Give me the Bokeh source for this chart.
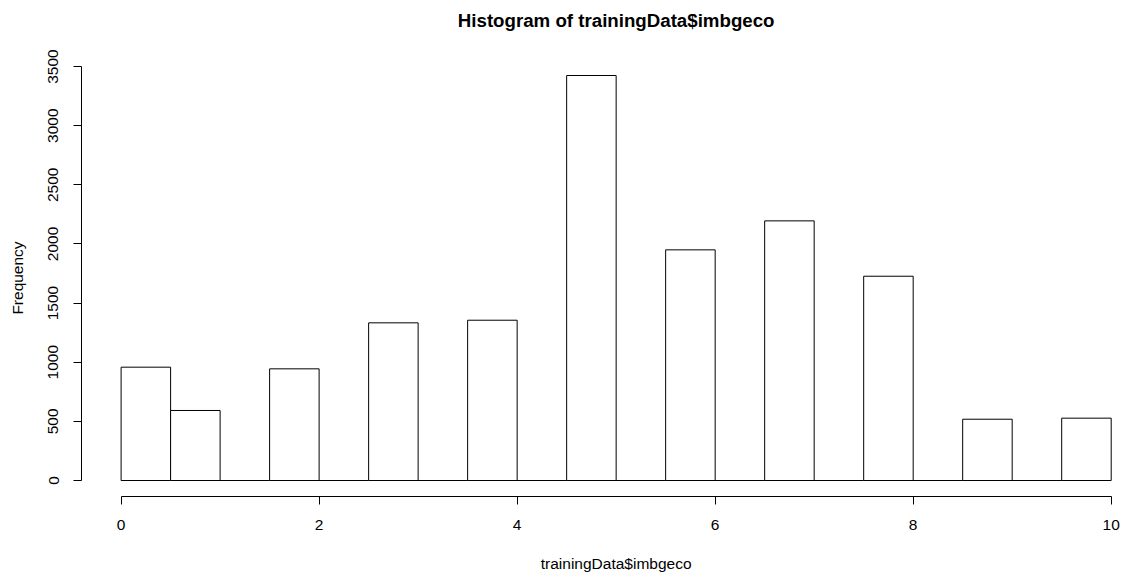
import math
from bokeh.plotting import figure
from bokeh.models import Range1d, FixedTicker, ColumnDataSource
from bokeh.core.properties import value
from bokeh.embed import file_html
from bokeh.resources import INLINE

# Histogram bins (width 0.5) and their counts
bin_left = [0.0, 0.5, 1.0, 1.5, 2.0, 2.5, 3.0, 3.5, 4.0, 4.5,
            5.0, 5.5, 6.0, 6.5, 7.0, 7.5, 8.0, 8.5, 9.0, 9.5]
counts = [958, 592, 0, 944, 0, 1333, 0, 1355, 0, 3424,
          0, 1950, 0, 2195, 0, 1727, 0, 518, 0, 527]
bin_width = 0.5

x_ticks = [0, 2, 4, 6, 8, 10]
y_ticks = [0, 500, 1000, 1500, 2000, 2500, 3000, 3500]

title_text = "Histogram of trainingData$imbgeco"
x_label = "trainingData$imbgeco"
y_label = "Frequency"

FONT = "Liberation Sans"
W, H = 1124, 572

# Plot region in data units, base-R style: x spans the breaks, y spans 0..max,
# each padded by 4 %; the axes sit on the edges of that region.
x_lo, x_hi = 0.0, 10.0
y_lo, y_hi = 0.0, float(max(counts))
x_pad = 0.04 * (x_hi - x_lo)
y_pad = 0.04 * (y_hi - y_lo)
reg_x0, reg_x1 = x_lo - x_pad, x_hi + x_pad
reg_y0, reg_y1 = y_lo - y_pad, y_hi + y_pad

# Pixel placement of that region on the page (its right edge runs off the page)
px_left, px_right = 81.0, 1150.3
px_top, px_bottom = 58.8, 496.2
sx = (px_right - px_left) / (reg_x1 - reg_x0)   # px per x unit
sy = (px_bottom - px_top) / (reg_y1 - reg_y0)   # px per y unit

# The frame covers the whole canvas; ranges are chosen so the region lands above
xr = Range1d(reg_x0 - px_left / sx, reg_x0 + (W - px_left) / sx)
yr = Range1d(reg_y0 - (H - px_bottom) / sy, reg_y1 + px_top / sy)

def y_at(px):
    # data y for a canvas row
    return reg_y1 + (px_top - px) / sy

def x_at(px):
    # data x for a canvas column
    return reg_x0 + (px - px_left) / sx

p = figure(
    width=W, height=H, x_range=xr, y_range=yr,
    output_backend="svg", toolbar_location=None,
    min_border_left=0, min_border_right=0, min_border_top=0, min_border_bottom=0,
)
p.background_fill_color = "white"
p.border_fill_color = "white"
p.outline_line_color = None
p.grid.visible = False

src = ColumnDataSource(dict(
    left=bin_left,
    right=[b + bin_width for b in bin_left],
    top=counts,
    bottom=[0] * len(counts),
))
p.quad(left="left", right="right", bottom="bottom", top="top", source=src,
       fill_color="white", line_color="black", line_width=1)

# x axis along the bottom edge of the region, spanning 0..10
xa = p.xaxis[0]
xa.fixed_location = reg_y0
xa.ticker = FixedTicker(ticks=x_ticks)
xa.bounds = (x_ticks[0], x_ticks[-1])
xa.major_label_text_font = FONT
xa.major_label_text_font_size = "15.5px"
xa.major_label_text_color = "black"
xa.major_label_standoff = 15
xa.major_tick_out = 8
xa.major_tick_in = 0
xa.minor_tick_line_color = None
xa.axis_line_color = "black"
xa.major_tick_line_color = "black"

# y axis along the left edge of the region, spanning 0..3500
ya = p.yaxis[0]
ya.fixed_location = reg_x0
ya.ticker = FixedTicker(ticks=y_ticks)
ya.bounds = (y_ticks[0], y_ticks[-1])
ya.major_label_orientation = "vertical"
ya.major_label_text_font = FONT
ya.major_label_text_font_size = "15.5px"
ya.major_label_text_color = "black"
ya.major_label_standoff = 15
ya.major_tick_out = 8
ya.major_tick_in = 0
ya.minor_tick_line_color = None
ya.axis_line_color = "black"
ya.major_tick_line_color = "black"

# Title and axis titles, centred on the region
x_mid = (reg_x0 + reg_x1) / 2
y_mid = (reg_y0 + reg_y1) / 2
p.text(x=[x_mid], y=[y_at(20)], text=[title_text],
       text_font=value(FONT), text_font_size="18.7px", text_font_style="bold",
       text_color="black", text_align="center", text_baseline="middle")
p.text(x=[x_mid], y=[y_at(563)], text=[x_label],
       text_font=value(FONT), text_font_size="15.5px",
       text_color="black", text_align="center", text_baseline="middle")
p.text(x=[x_at(17)], y=[y_mid], text=[y_label], angle=math.pi / 2,
       text_font=value(FONT), text_font_size="15.5px",
       text_color="black", text_align="center", text_baseline="middle")

open("out.html", "w").write(file_html(p, INLINE))
